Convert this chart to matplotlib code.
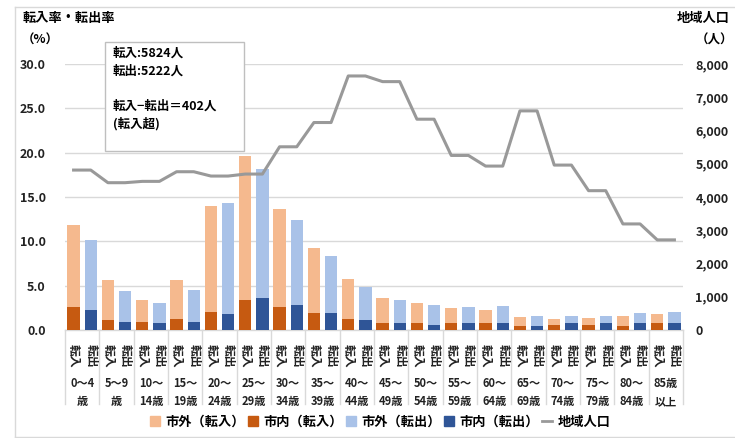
import numpy as np
import matplotlib
matplotlib.use("Agg")
import matplotlib.pyplot as plt
import matplotlib.patches as mpatches
import matplotlib.transforms as mtransforms
from matplotlib.lines import Line2D

plt.rcParams['font.family'] = ['Noto Sans CJK JP', 'DejaVu Sans']

# ---- data ----
age_labels = ["0～4\n歳", "5～9\n歳", "10～\n14歳", "15～\n19歳", "20～\n24歳", "25～\n29歳",
              "30～\n34歳", "35～\n39歳", "40～\n44歳", "45～\n49歳", "50～\n54歳", "55～\n59歳",
              "60～\n64歳", "65～\n69歳", "70～\n74歳", "75～\n79歳", "80～\n84歳", "85歳\n以上"]

# 転入 (%)
in_city    = [2.6, 1.1, 0.9, 1.2, 2.0, 3.4, 2.6, 1.9, 1.25, 0.8, 0.8, 0.8, 0.75, 0.45, 0.55, 0.55, 0.45, 0.75]
in_outside = [9.2, 4.5, 2.5, 4.4, 12.0, 16.2, 11.1, 7.4, 4.55, 2.8, 2.2, 1.65, 1.55, 1.0, 0.7, 0.85, 1.15, 1.1]
# 転出 (%)
out_city    = [2.3, 0.9, 0.8, 0.9, 1.85, 3.6, 2.8, 1.9, 1.1, 0.75, 0.55, 0.75, 0.8, 0.45, 0.75, 0.75, 0.75, 0.75]
out_outside = [7.8, 3.5, 2.3, 3.6, 12.45, 14.6, 9.6, 6.4, 3.8, 2.65, 2.25, 1.9, 1.9, 1.15, 0.85, 0.85, 1.15, 1.25]
# 地域人口 (人)
population = [4810, 4430, 4470, 4760, 4630, 4690, 5510, 6240, 7640, 7470, 6340, 5250, 4930, 6590, 4960, 4190, 3190, 2710]

box_text = "転入:5824人\n転出:5222人\n\n転入−転出＝402人\n(転入超)"

c_in_out = '#F5B98E'
c_in_city = '#C65A11'
c_out_out = '#A9C2E8'
c_out_city = '#2F5597'
c_line = '#999999'

W, H = 735, 438
fig = plt.figure(figsize=(W / 100, H / 100), dpi=100)
ax = fig.add_axes([65 / W, 1 - 330 / H, (683 - 65) / W, (330 - 64) / H])
ax2 = ax.twinx()

x = np.arange(len(age_labels))
off = 0.25
bw = 0.36

ax.bar(x - off, in_city, bw, color=c_in_city, zorder=3)
ax.bar(x - off, in_outside, bw, bottom=in_city, color=c_in_out, zorder=3)
ax.bar(x + off, out_city, bw, color=c_out_city, zorder=3)
ax.bar(x + off, out_outside, bw, bottom=out_city, color=c_out_out, zorder=3)

# population line, one point per bar
lx = np.column_stack([x - off, x + off]).ravel()
ly = np.repeat(population, 2)
ax2.plot(lx, ly, color=c_line, lw=2.2, zorder=4)

ax.set_xlim(-0.5, len(age_labels) - 0.5)
ax.set_ylim(0, 30)
ax2.set_ylim(0, 8000)
ax.set_yticks(np.arange(0, 31, 5))
ax.set_yticklabels([f"{v:.1f}" for v in np.arange(0, 31, 5)])
ax2.set_yticks(np.arange(0, 8001, 1000))
ax2.set_yticklabels([f"{v:,}" for v in range(0, 8001, 1000)])
ax.grid(axis='y', color='#D9D9D9', lw=1.0, zorder=0)
ax.set_xticks([])
for a in (ax, ax2):
    for s in a.spines.values():
        s.set_visible(False)
    a.tick_params(length=0, labelsize=9, colors='#222222')
ax.tick_params(axis='y', pad=14)
ax2.tick_params(axis='y', pad=9)
for t in ax.get_yticklabels() + ax2.get_yticklabels():
    t.set_fontweight('bold')

# category table under the axis
trans = mtransforms.blended_transform_factory(ax.transData, ax.transAxes)
ax.plot([-0.5, len(age_labels) - 0.5], [0, 0], color='#D9D9D9', lw=1.0, transform=trans, clip_on=False)
for i in range(len(age_labels) + 1):
    ax.plot([i - 0.5, i - 0.5], [0, -0.28], color='#D9D9D9', lw=1.0, transform=trans, clip_on=False)
for i, lab in enumerate(age_labels):
    ax.text(i - off, -0.098, "転入", rotation=-90, ha='center', va='center', fontsize=8.5,
            fontweight='bold', transform=trans, color='#222222')
    ax.text(i + off, -0.098, "転出", rotation=-90, ha='center', va='center', fontsize=8.5,
            fontweight='bold', transform=trans, color='#222222')
    ax.text(i, -0.178, lab, ha='center', va='top', fontsize=8, fontweight='bold',
            linespacing=1.5, transform=trans, color='#222222')

# axis titles
fig.text(23 / W, 1 - 18 / H, "転入率・転出率", fontsize=9.5, fontweight='bold', va='center', ha='left')
fig.text(22 / W, 1 - 40 / H, "（%）", fontsize=9, fontweight='bold', va='center', ha='left')
fig.text(730 / W, 1 - 18 / H, "地域人口", fontsize=9.5, fontweight='bold', va='center', ha='right')
fig.text(733 / W, 1 - 40 / H, "（人）", fontsize=9, fontweight='bold', va='center', ha='right')

# annotation box
fig.patches.append(mpatches.Rectangle((105 / W, 1 - 151 / H), (244 - 105) / W, (151 - 42) / H,
                                      transform=fig.transFigure, facecolor='white',
                                      edgecolor='#BFBFBF', lw=1.0, zorder=5))
fig.text(113 / W, 1 - 47 / H, box_text, fontsize=9, fontweight='bold', va='top', ha='left',
         linespacing=1.45, zorder=6)

# legend
handles = [mpatches.Patch(color=c_in_out, label="市外（転入）"),
           mpatches.Patch(color=c_in_city, label="市内（転入）"),
           mpatches.Patch(color=c_out_out, label="市外（転出）"),
           mpatches.Patch(color=c_out_city, label="市内（転出）"),
           Line2D([], [], color=c_line, lw=2.0, label="地域人口")]
leg = fig.legend(handles=handles, loc='center', bbox_to_anchor=(380 / W, 1 - 422 / H), ncol=5,
                 frameon=False, fontsize=9.5, handlelength=0.8, handleheight=0.8,
                 handletextpad=0.4, columnspacing=0.2)
for t in leg.get_texts():
    t.set_fontweight('bold')

# outer frame
for xs, ys in [((15, 15), (7, 437)), ((15, 735), (7, 7)), ((15, 735), (437, 437))]:
    fig.add_artist(Line2D([v / W for v in xs], [1 - v / H for v in ys], color='#D9D9D9', lw=1.0))

fig.savefig("out.png", dpi=100)
